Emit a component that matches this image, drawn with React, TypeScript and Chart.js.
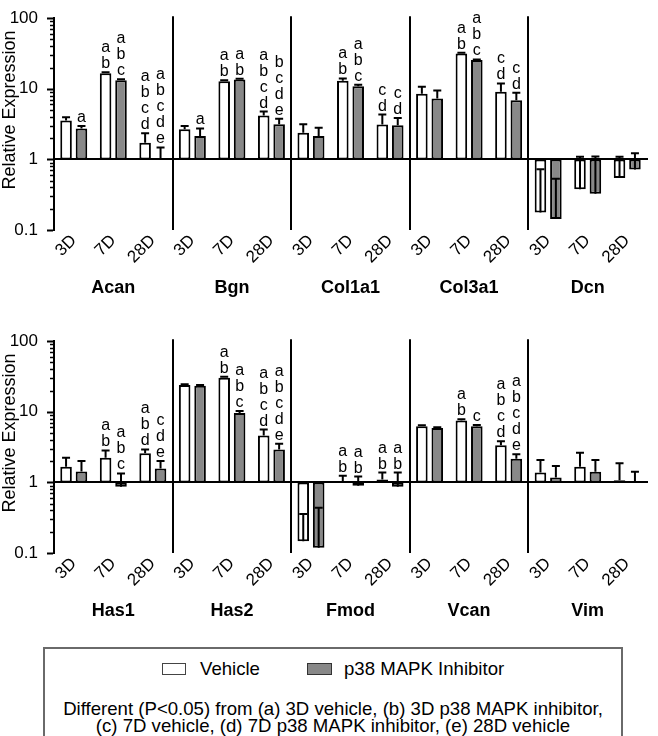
import React, { useEffect, useRef } from 'react';
import { Chart, registerables } from 'chart.js';

Chart.register(...registerables);

const FONT = "'Liberation Sans', Arial, Helvetica, sans-serif";

const TIMEPOINTS = ['3D', '7D', '28D'];
const TOP_GENES = ['Acan', 'Bgn', 'Col1a1', 'Col3a1', 'Dcn'];
const BOTTOM_GENES = ['Has1', 'Has2', 'Fmod', 'Vcan', 'Vim'];
const Y_TICKS = [0.1, 1, 10, 100];

// Relative expression, ordered gene by gene (3D, 7D, 28D)
const topVehicle = [3.57, 16.6, 1.72, 2.68, 12.8, 4.19, 2.39, 13.0, 3.11, 8.53, 31.5, 9.09, 0.177, 0.377, 0.546];
const topVehicleSd = [0.4, 0.6, 0.62, 0.3, 0.4, 0.57, 0.76, 1.0, 1.21, 2.2, 1.0, 2.8, 0.55, 0.71, 0.54];
const topInhibitor = [2.74, 13.2, 0.98, 2.15, 13.5, 3.15, 2.15, 10.9, 3.05, 7.27, 25.5, 6.9, 0.143, 0.325, 0.72];
const topInhibitorSd = [0.24, 0.4, 0.5, 0.59, 0.4, 0.62, 0.65, 0.5, 0.8, 2.2, 0.6, 1.9, 0.39, 0.77, 0.5];
const topVehicleSig = ['', 'ab', 'abcd', '', 'ab', 'abcd', '', 'ab', 'cd', '', 'ab', 'cd', '', '', ''];
const topInhibitorSig = ['a', 'abc', 'abcde', 'a', 'ab', 'bcde', '', 'abc', 'cd', '', 'abc', 'cd', '', '', ''];

const bottomVehicle = [1.66, 2.24, 2.58, 23.9, 30.3, 4.61, 0.147, 1.03, 1.1, 6.23, 7.56, 3.37, 1.38, 1.66, 1.07];
const bottomVehicleSd = [0.58, 0.6, 0.35, 0.6, 1.0, 1.0, 0.21, 0.21, 0.28, 0.2, 0.3, 0.47, 0.7, 0.97, 0.8];
const bottomInhibitor = [1.43, 0.87, 1.57, 23.4, 9.58, 2.93, 0.119, 0.9, 0.87, 5.9, 6.23, 2.17, 1.17, 1.41, 1.01];
const bottomInhibitorSd = [0.58, 0.47, 0.44, 0.6, 0.7, 0.6, 0.32, 0.31, 0.51, 0.15, 0.25, 0.33, 0.54, 0.67, 0.4];
const bottomVehicleSig = ['', 'ab', 'abd', '', 'ab', 'abcd', '', 'ab', 'ab', '', 'ab', 'abcd', '', '', ''];
const bottomInhibitorSig = ['', 'abc', 'cde', '', 'abc', 'abcde', '', 'ab', 'ab', '', 'c', 'abcde', '', '', ''];

type Panel = {
  genes: string[];
  vehicle: number[];
  vehicleSd: number[];
  inhibitor: number[];
  inhibitorSd: number[];
  vehicleSig: string[];
  inhibitorSig: string[];
};

const TOP_PANEL: Panel = {
  genes: TOP_GENES,
  vehicle: topVehicle,
  vehicleSd: topVehicleSd,
  inhibitor: topInhibitor,
  inhibitorSd: topInhibitorSd,
  vehicleSig: topVehicleSig,
  inhibitorSig: topInhibitorSig,
};

const BOTTOM_PANEL: Panel = {
  genes: BOTTOM_GENES,
  vehicle: bottomVehicle,
  vehicleSd: bottomVehicleSd,
  inhibitor: bottomInhibitor,
  inhibitorSd: bottomInhibitorSd,
  vehicleSig: bottomVehicleSig,
  inhibitorSig: bottomInhibitorSig,
};

const CANVAS_W = 658;
const CANVAS_H = 323;

// Baseline, gene separators, error bars, significance letters, gene names,
// y-axis tick marks and the rotated y-axis title.
function panelDecor(p: Panel) {
  const sds = [p.vehicleSd, p.inhibitorSd];
  const sigs = [p.vehicleSig, p.inhibitorSig];
  return {
    id: 'panelDecor',
    afterDatasetsDraw(chart: any) {
      const { ctx, chartArea: a, scales } = chart;
      const y = scales.y;
      ctx.save();
      ctx.strokeStyle = '#000';
      ctx.fillStyle = '#000';
      ctx.lineWidth = 2;

      // horizontal line at relative expression = 1
      const y1 = Math.round(y.getPixelForValue(1));
      ctx.beginPath();
      ctx.moveTo(a.left, y1);
      ctx.lineTo(a.right + 1, y1);
      ctx.stroke();

      // vertical separators between genes
      const gw = (a.right - a.left) / p.genes.length;
      for (let k = 1; k < p.genes.length; k++) {
        const sx = Math.round(a.left + k * gw);
        ctx.beginPath();
        ctx.moveTo(sx, a.top - 2);
        ctx.lineTo(sx, a.bottom);
        ctx.stroke();
      }

      // error bars (mean + SD) and letters
      ctx.font = `16px ${FONT}`;
      ctx.textAlign = 'center';
      ctx.textBaseline = 'alphabetic';
      chart.data.datasets.forEach((ds: any, di: number) => {
        const meta = chart.getDatasetMeta(di);
        meta.data.forEach((bar: any, i: number) => {
          const v = ds.data[i] as number;
          const hi = v + sds[di][i];
          const pv = y.getPixelForValue(v);
          const ph = y.getPixelForValue(hi);
          ctx.lineWidth = 2;
          ctx.beginPath();
          ctx.moveTo(bar.x, pv);
          ctx.lineTo(bar.x, ph);
          ctx.moveTo(bar.x - 4, ph);
          ctx.lineTo(bar.x + 4, ph);
          ctx.stroke();

          const s = sigs[di][i];
          if (s) {
            const anchor = y.getPixelForValue(Math.max(hi, 1));
            for (let j = 0; j < s.length; j++) {
              const by = anchor - 4 - (s.length - 1 - j) * 16;
              ctx.fillText(s[j], bar.x, by);
            }
          }
        });
      });
      ctx.restore();
    },
    afterDraw(chart: any) {
      const { ctx, chartArea: a, scales } = chart;
      const y = scales.y;
      ctx.save();
      ctx.strokeStyle = '#000';
      ctx.fillStyle = '#000';

      // major and minor tick marks on the log axis
      const tickVals: number[] = [];
      for (let e = -1; e <= 1; e++) {
        for (let m = 1; m <= 9; m++) tickVals.push(m * Math.pow(10, e));
      }
      tickVals.push(100);
      tickVals.forEach((v) => {
        const major = Math.abs(Math.log10(v) - Math.round(Math.log10(v))) < 1e-9;
        const ty = Math.round(y.getPixelForValue(v)) + 0.5;
        ctx.lineWidth = major ? 2 : 1.5;
        ctx.beginPath();
        ctx.moveTo(a.left - 1 - (major ? 6 : 3), ty);
        ctx.lineTo(a.left - 1, ty);
        ctx.stroke();
      });

      // gene names
      const gw = (a.right - a.left) / p.genes.length;
      ctx.font = `bold 18px ${FONT}`;
      ctx.textAlign = 'center';
      ctx.textBaseline = 'alphabetic';
      p.genes.forEach((g, k) => {
        ctx.fillText(g, a.left + (k + 0.5) * gw, 293);
      });

      // y-axis title
      ctx.translate(10, 110);
      ctx.rotate(-Math.PI / 2);
      ctx.font = `18px ${FONT}`;
      ctx.textBaseline = 'middle';
      ctx.fillText('Relative Expression', 0, 0);
      ctx.restore();
    },
  };
}

function buildConfig(p: Panel): any {
  const labels = p.genes.flatMap(() => TIMEPOINTS);
  const barStyle = {
    base: 1,
    borderColor: '#000000',
    borderWidth: 2,
    borderSkipped: false,
    categoryPercentage: 0.78,
    barPercentage: 0.75,
  };
  return {
    type: 'bar',
    data: {
      labels,
      datasets: [
        { label: 'Vehicle', data: p.vehicle, backgroundColor: '#ffffff', ...barStyle },
        { label: 'p38 MAPK Inhibitor', data: p.inhibitor, backgroundColor: '#888888', ...barStyle },
      ],
    },
    options: {
      responsive: false,
      animation: false,
      layout: { padding: { top: 15, right: 11, left: 0, bottom: 0 } },
      plugins: { legend: { display: false }, tooltip: { enabled: false } },
      scales: {
        x: {
          type: 'category',
          offset: true,
          grid: { display: false },
          border: { display: false },
          ticks: {
            autoSkip: false,
            maxRotation: 45,
            minRotation: 45,
            padding: -6,
            color: '#000',
            font: { family: FONT, size: 17, lineHeight: 1 },
          },
          afterFit: (s: any) => {
            s.height = 93;
          },
        },
        y: {
          type: 'logarithmic',
          min: 0.1,
          max: 100,
          afterBuildTicks: (s: any) => {
            s.ticks = Y_TICKS.map((v) => ({ value: v }));
          },
          afterFit: (s: any) => {
            s.width = 54;
          },
          grid: { display: false },
          border: { display: true, color: '#000', width: 2 },
          ticks: {
            padding: 8,
            color: '#000',
            font: { family: FONT, size: 17 },
            callback: (v: any) => String(v),
          },
        },
      },
    },
    plugins: [panelDecor(p)],
  };
}

function PanelChart({ panel, top }: { panel: Panel; top: number }) {
  const ref = useRef<HTMLCanvasElement>(null);
  useEffect(() => {
    if (!ref.current) return;
    const chart = new Chart(ref.current, buildConfig(panel));
    return () => chart.destroy();
  }, [panel]);
  return (
    <canvas
      ref={ref}
      width={CANVAS_W}
      height={CANVAS_H}
      style={{ position: 'absolute', left: 0, top, width: CANVAS_W, height: CANVAS_H, display: 'block' }}
    />
  );
}

const swatch = (left: number, width: number, bg: string, border: string): React.CSSProperties => ({
  position: 'absolute',
  left,
  top: 663,
  width,
  height: 12,
  boxSizing: 'border-box',
  background: bg,
  border: `1px solid ${border}`,
});

const legendText = (left: number): React.CSSProperties => ({
  position: 'absolute',
  left,
  top: 659,
  font: `18.6px ${FONT}`,
  lineHeight: '20px',
  color: '#000',
  whiteSpace: 'nowrap',
});

export default function App() {
  return (
    <div
      style={{
        position: 'absolute',
        left: 0,
        top: 0,
        width: 658,
        height: 736,
        overflow: 'hidden',
        background: '#ffffff',
      }}
    >
      <PanelChart panel={TOP_PANEL} top={0} />
      <PanelChart panel={BOTTOM_PANEL} top={323} />

      <div
        style={{
          position: 'absolute',
          left: 43,
          top: 647,
          width: 580,
          height: 120,
          boxSizing: 'border-box',
          border: '2px solid #6a6a6a',
        }}
      />
      <div style={swatch(162, 24, '#ffffff', '#444')} />
      <span style={legendText(200)}>Vehicle</span>
      <div style={swatch(307, 25, '#888888', '#333')} />
      <span style={legendText(344)}>p38 MAPK Inhibitor</span>
      <div
        style={{
          position: 'absolute',
          left: 43,
          top: 700,
          width: 580,
          textAlign: 'center',
          font: `18.6px ${FONT}`,
          lineHeight: '17px',
          color: '#000',
          whiteSpace: 'nowrap',
        }}
      >
        Different (P&lt;0.05) from (a) 3D vehicle, (b) 3D p38 MAPK inhibitor,
        <br />
        (c) 7D vehicle, (d) 7D p38 MAPK inhibitor, (e) 28D vehicle
      </div>
    </div>
  );
}
